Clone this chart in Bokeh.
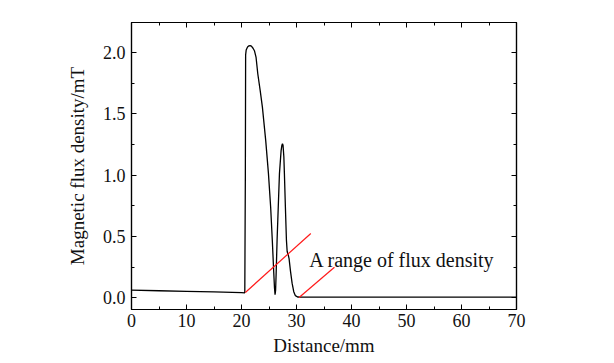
from bokeh.plotting import figure
from bokeh.models import (Range1d, LinearAxis, NumeralTickFormatter,
                          SingleIntervalTicker, CustomLabelingPolicy)
from bokeh.core.properties import value
from bokeh.embed import file_html
from bokeh.resources import INLINE

# Curve data (Distance/mm, Magnetic flux density/mT)
distance = [0, 5, 10, 15, 20, 20.6, 20.7, 20.75, 20.85, 21.1, 21.35, 21.56, 21.8, 22.1,
            22.35, 22.65, 22.96, 23.4, 23.8, 24.4, 24.9, 25.3, 25.6, 25.87, 26.0, 26.1,
            26.2, 26.3, 26.47, 26.9, 27.2, 27.35, 27.45, 27.55, 27.7, 27.8, 27.98,
            28.17, 28.3, 28.4, 28.5, 28.65, 28.9, 29.2, 29.5, 29.8, 30.2, 31, 35, 40,
            50, 60, 70]
flux = [0.063, 0.058, 0.053, 0.048, 0.043, 0.041, 1.0, 1.98, 2.02, 2.045, 2.055, 2.057,
        2.052, 2.035, 2.015, 1.96, 1.827, 1.69, 1.555, 1.284, 1.013, 0.741, 0.47, 0.2,
        0.08, 0.025, 0.06, 0.2, 0.47, 1.013, 1.2, 1.245, 1.257, 1.245, 1.15, 1.013,
        0.741, 0.47, 0.38, 0.36, 0.35, 0.32, 0.22, 0.12, 0.05, 0.018, 0.007, 0.006,
        0.006, 0.006, 0.006, 0.006, 0.006]

# Annotation lines (red) and label
line1_x = [20.7, 32.6]
line1_y = [0.044, 0.525]
line2_x = [30.47, 36.9]
line2_y = [0.003, 0.25]
note_x = [32.3]
note_y = [0.307]
note_text = ["A range of flux density"]

FONT = "Liberation Serif"

p = figure(width=598, height=355, output_backend="svg", toolbar_location=None,
           x_range=Range1d(0, 70), y_range=Range1d(-0.095, 2.245),
           min_border_left=131, min_border_right=82, min_border_top=22,
           min_border_bottom=46, frame_width=385, frame_height=287)

p.grid.visible = False
p.outline_line_color = "black"
p.outline_line_width = 1.2
p.background_fill_color = "white"
p.border_fill_color = "white"

p.line(distance, flux, line_color="black", line_width=1.3)
p.line(line1_x, line1_y, line_color="#ff1a1a", line_width=1.2)
p.line(line2_x, line2_y, line_color="#ff1a1a", line_width=1.2)
p.text(x=note_x, y=note_y, text=note_text, text_font=value(FONT),
       text_font_size="20px", text_align="left", text_baseline="alphabetic",
       text_color="#111111")

def style(ax, labels=True):
    ax.axis_line_color = "black"
    ax.axis_line_width = 1.2
    ax.major_tick_in = 5
    ax.major_tick_out = 0
    ax.minor_tick_in = 3
    ax.minor_tick_out = 0
    ax.major_tick_line_color = "black"
    ax.minor_tick_line_color = "black"
    ax.major_label_text_font = FONT
    ax.axis_label_text_font = FONT
    ax.axis_label_text_font_style = "normal"
    ax.major_label_text_color = "#111111"
    ax.axis_label_text_color = "#111111"
    if labels:
        ax.major_label_text_font_size = "18px"
        ax.axis_label_text_font_size = "19px"
    else:
        ax.major_label_text_font_size = "2px"
        ax.major_label_standoff = 0
        ax.major_label_policy = CustomLabelingPolicy(code="return []")

xt = SingleIntervalTicker(interval=10, num_minor_ticks=2)
yt = SingleIntervalTicker(interval=0.5, num_minor_ticks=2)

p.xaxis.ticker = xt
p.yaxis.ticker = yt
p.xaxis.axis_label = "Distance/mm"
p.yaxis.axis_label = "Magnetic flux density/mT"
p.yaxis.formatter = NumeralTickFormatter(format="0.0")
for ax in p.xaxis + p.yaxis:
    style(ax)
p.xaxis.major_label_standoff = 4
p.xaxis.axis_label_standoff = 5
p.yaxis.major_label_standoff = 6
p.yaxis.axis_label_standoff = 12

top = LinearAxis(ticker=SingleIntervalTicker(interval=10, num_minor_ticks=2))
right = LinearAxis(ticker=SingleIntervalTicker(interval=0.5, num_minor_ticks=2))
style(top, labels=False)
style(right, labels=False)
p.add_layout(top, "above")
p.add_layout(right, "right")

open("out.html", "w").write(file_html(p, INLINE))
